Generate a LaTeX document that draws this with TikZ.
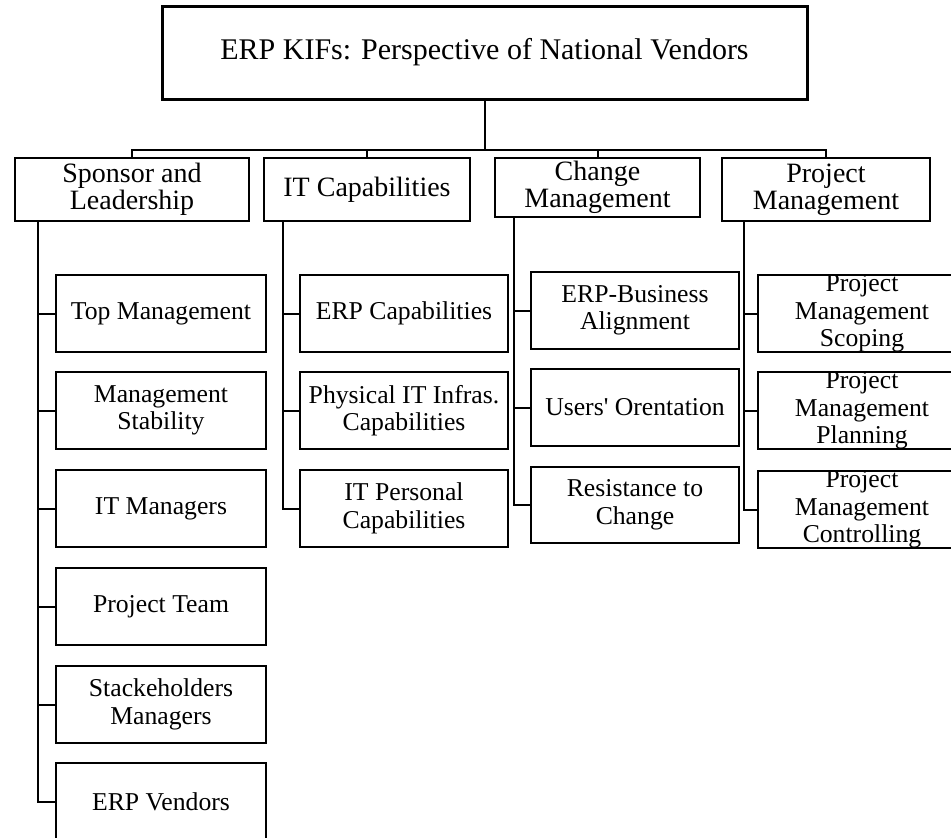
\documentclass[tikz,border=0pt]{standalone}
\usepackage{fontspec}
\setmainfont{Liberation Serif}[Ligatures=TeXOff]
\usepackage{tikz}

\begin{document}
\begin{tikzpicture}[x=1pt, y=-1pt, line width=2pt, font=\fontsize{25.7}{27.5}\selectfont,
  group/.style={draw, align=center, inner sep=0pt, minimum height=63pt, anchor=north, font=\fontsize{28}{27.5}\selectfont},
  kif/.style={draw, align=center, inner sep=0pt, minimum width=208pt, minimum height=77pt}]

\useasboundingbox (0,0) rectangle (951,838);
\clip (0,0) rectangle (951,838);

% top of the chart
\node [draw, line width=3pt, inner sep=0pt, minimum width=645pt, minimum height=93pt, font=\fontsize{30}{32}\selectfont] (root) at (484.5,52.5) {ERP KIFs: Perspective of National Vendors};

% the four groups
\node [group, minimum width=234pt] (sponsor) at (132,157) {Sponsor and\\Leadership};
\node [group, minimum width=206pt] (itcap) at (367,157) {IT Capabilities};
\node [group, minimum width=205pt, minimum height=59pt] (change) at (597.5,157) {Change\\Management};
\node [group, minimum width=208pt] (projm) at (826,157) {Project\\Management};

% factors of each group
\node [kif, minimum width=210pt] (topm) at (161,313.5) {Top Management};
\node [kif, minimum width=210pt] (mstab) at (161,410.5) {Management\\Stability};
\node [kif, minimum width=210pt] (itman) at (161,508.5) {IT Managers};
\node [kif, minimum width=210pt] (pteam) at (161,606.5) {Project Team};
\node [kif, minimum width=210pt] (stake) at (161,704.5) {Stackeholders\\Managers};
\node [kif, minimum width=210pt] (vend) at (161,801.5) {ERP Vendors};

\node [kif] (erpcap) at (404,313.5) {ERP Capabilities};
\node [kif] (phys) at (404,410.5) {Physical IT Infras.\\Capabilities};
\node [kif] (itpers) at (404,508.5) {IT Personal\\Capabilities};

\node [kif] (align) at (635,310.5) {ERP-Business\\Alignment};
\node [kif] (users) at (635,407.5) {Users' Orentation};
\node [kif, minimum height=76pt] (resist) at (635,505) {Resistance to\\Change};

\node [kif] (pmscope) at (862,313.5) {Project\\Management\\Scoping};
\node [kif] (pmplan) at (862,410.5) {Project\\Management\\Planning};
\node [kif] (pmctrl) at (862,509.5) {Project\\Management\\Controlling};

% links
\draw (root.south) -- ++(0,49) coordinate (bar);
\foreach \g in {sponsor,itcap,change,projm}
  \draw (bar) -| (\g.north);

\coordinate (sptrunk) at ([xshift=24pt]sponsor.south west);
\coordinate (ittrunk) at ([xshift=20pt]itcap.south west);
\coordinate (chtrunk) at ([xshift=20pt]change.south west);
\coordinate (pmtrunk) at ([xshift=23pt]projm.south west);

\foreach \c in {topm,mstab,itman,pteam,stake,vend}
  \draw (sptrunk) |- (\c.west);
\foreach \c in {erpcap,phys,itpers}
  \draw (ittrunk) |- (\c.west);
\foreach \c in {align,users,resist}
  \draw (chtrunk) |- (\c.west);
\foreach \c in {pmscope,pmplan,pmctrl}
  \draw (pmtrunk) |- (\c.west);
\end{tikzpicture}
\end{document}
